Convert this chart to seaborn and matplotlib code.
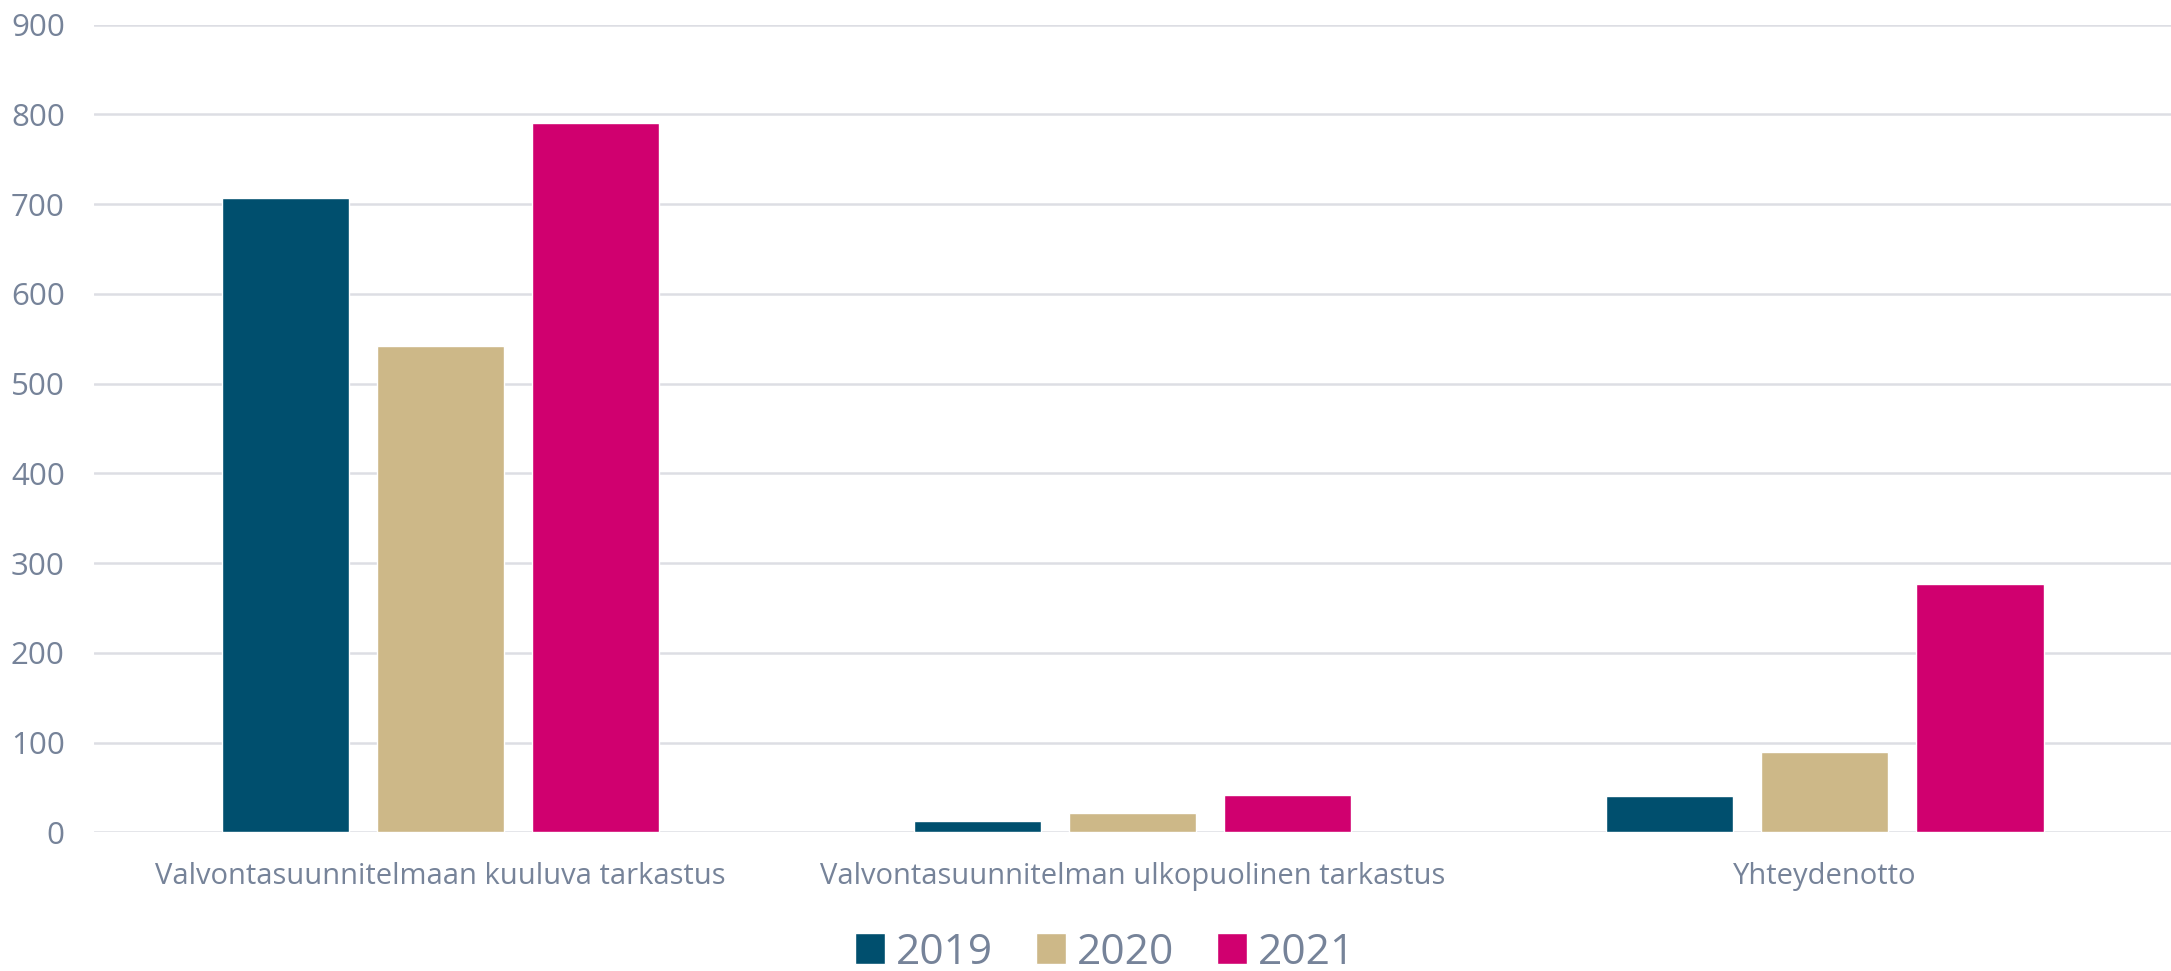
import pandas as pd
import matplotlib
matplotlib.use('Agg')
import matplotlib.pyplot as plt
import seaborn as sns

# data
categories = ['Valvontasuunnitelmaan kuuluva tarkastus',
              'Valvontasuunnitelman ulkopuolinen tarkastus',
              'Yhteydenotto']
years = ['2019', '2020', '2021']
values_2019 = [707, 13, 40]
values_2020 = [542, 22, 89]
values_2021 = [790, 42, 277]

colors = ['#004F6E', '#CDB888', '#D0006F']
text_color = '#768399'
grid_color = '#DDDEE4'

df = pd.DataFrame({
    'kategoria': categories * 3,
    'vuosi': [y for y in years for _ in categories],
    'arvo': values_2019 + values_2020 + values_2021,
})

sns.set_theme(style='white')
plt.rcParams['font.family'] = ['Open Sans', 'DejaVu Sans']

fig = plt.figure(figsize=(21.71, 9.71), dpi=100)
ax = fig.add_axes([0.0433, 0.1428, 0.9567, 0.8318])

sns.barplot(data=df, x='kategoria', y='arvo', hue='vuosi', palette=colors,
            width=0.672, gap=0.18, saturation=1, ax=ax, legend=True)

ax.set_ylim(0, 900)
ax.set_yticks(range(0, 901, 100))
ax.yaxis.grid(True, color=grid_color, linewidth=1.8)
ax.set_axisbelow(True)
for s in ax.spines.values():
    s.set_visible(False)
ax.set_xlabel('')
ax.set_ylabel('')
ax.tick_params(axis='y', length=0, pad=21, labelsize=22.5, labelcolor=text_color)
ax.tick_params(axis='x', length=0, pad=21, labelsize=21, labelcolor=text_color)

ax.get_legend().remove()
handles, labels = ax.get_legend_handles_labels()
leg = fig.legend(handles, labels, loc='center', bbox_to_anchor=(0.509, 0.019),
                 ncol=3, frameon=False, fontsize=30.5, handlelength=0.72,
                 handleheight=0.75, handletextpad=0.26, columnspacing=1.0,
                 borderpad=0)
for t in leg.get_texts():
    t.set_color(text_color)

fig.savefig('out.png', dpi=100)
